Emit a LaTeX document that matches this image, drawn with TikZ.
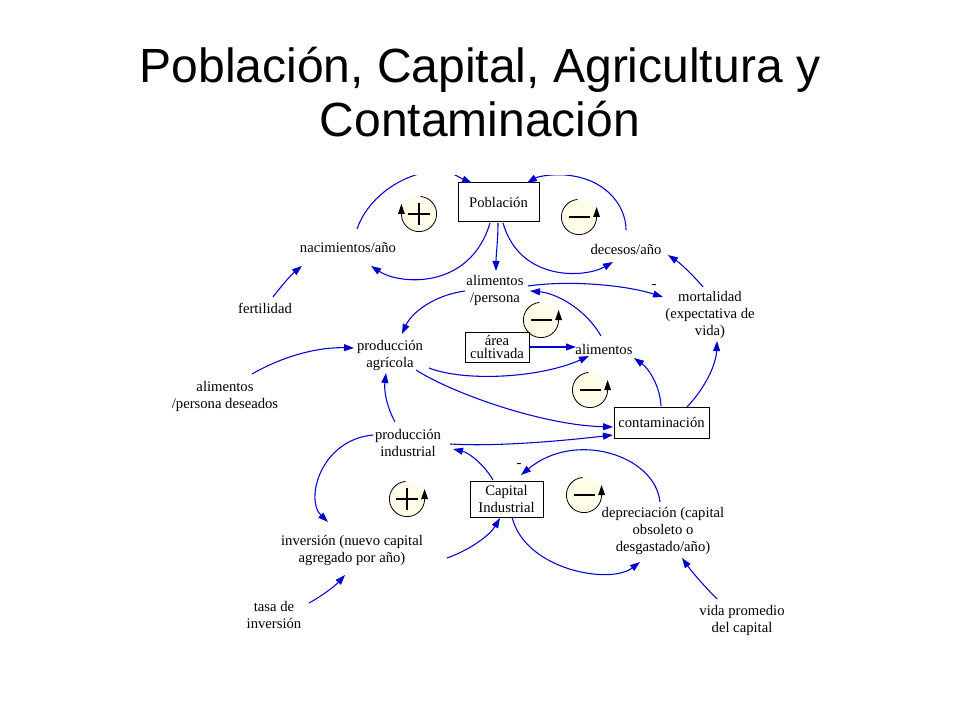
\documentclass[tikz,border=0pt]{standalone}
\usepackage{fontspec}
\setmainfont{Liberation Serif}
\newfontfamily\titlefont{Liberation Sans}
\usetikzlibrary{arrows.meta}
\definecolor{linkblue}{RGB}{0,0,204}
\definecolor{loopfill}{RGB}{255,253,232}
\tikzset{
  lbl/.style={align=center, inner sep=0pt, font=\fontsize{11}{12.75}\selectfont},
  stock/.style={draw=black, line width=0.75pt, inner sep=0pt, align=center, font=\fontsize{11}{12.75}\selectfont},
  link/.style={draw=linkblue, line width=0.8pt, -{Triangle[length=7.5pt,width=5.2pt]}},
  loopline/.style={draw=black, line width=0.6pt},
  signline/.style={draw=black, line width=1.5pt},
  ttl/.style={anchor=base, inner sep=0pt, font=\titlefont\fontsize{36}{40}\selectfont}
}
\newcommand\loopccw[1]{%
  \fill[loopfill] (#1) circle[radius=13.2pt];
  \draw[loopline] (#1) ++(95:13.2pt) arc[start angle=95,end angle=360,radius=13.2pt];
  \fill[black] (#1) ++(10.6pt,0pt) -- ++(5.2pt,0pt) -- ++(-2.6pt,7.5pt) -- cycle;
}
\newcommand\loopcw[1]{%
  \fill[loopfill] (#1) circle[radius=13.2pt];
  \draw[loopline] (#1) ++(85:13.2pt) arc[start angle=85,end angle=-180,radius=13.2pt];
  \fill[black] (#1) ++(-15.8pt,0pt) -- ++(5.2pt,0pt) -- ++(-2.6pt,7.5pt) -- cycle;
}
\newcommand\plussign[1]{%
  \draw[signline] (#1) ++(-8pt,0pt) -- ++(16pt,0pt);
  \draw[signline] (#1) ++(0pt,-8pt) -- ++(0pt,16pt);
}
\newcommand\minussign[1]{%
  \draw[signline] (#1) ++(-7.5pt,0pt) -- ++(16pt,0pt);
}
\begin{document}
\begin{tikzpicture}[x=0.75pt,y=-0.75pt]
\useasboundingbox (0,0) rectangle (960,720);
\fill[white] (0,0) rectangle (960,720);

% title
\node[ttl] (t1) at (480,83) {Población, Capital, Agricultura y};
\node[ttl] (t2) at (480,137) {Contaminación};

% loop symbols
\loopcw{419,214}\plussign{419,214}
\loopccw{579,217}\minussign{579,217}
\loopccw{541,320}\minussign{541,320}
\loopccw{590,390}\minussign{590,390}
\loopccw{407,499}\plussign{407,499}
\loopccw{584,495}\minussign{584,495}

% nodes
\node[stock, minimum width=60.75pt, minimum height=29.25pt] (pob) at (498.5,202.5) {Población};
\node[lbl] (nac) at (348,248) {nacimientos/año};
\node[lbl] (fer) at (265,308) {fertilidad};
\node[lbl] (dec) at (626,249) {decesos/año};
\node[lbl] (alp) at (495,290) {alimentos\\/persona};
\node[lbl] (mor) at (710,315) {mortalidad\\(expectativa de\\vida)};
\node[stock, minimum width=48pt, minimum height=22.5pt, font=\fontsize{11}{9.75}\selectfont] (acu) at (497,347) {área\\cultivada};
\node[lbl] (ali) at (604,349) {alimentos};
\node[stock, minimum width=71.25pt, minimum height=23.25pt] (con) at (661.5,422.5) {contaminación};
\node[lbl] (pag) at (390,355) {producción\\agrícola};
\node[lbl] (apd) at (225,396) {alimentos\\/persona deseados};
\node[lbl] (pin) at (408,443) {producción\\industrial};
\node[stock, minimum width=54.75pt, minimum height=27pt] (cap) at (506.5,499) {Capital\\Industrial};
\node[lbl] (inv) at (352,550) {inversión (nuevo capital\\agregado por año)};
\node[lbl] (tas) at (274,615) {tasa de\\inversión};
\node[lbl] (dep) at (663,531) {depreciación (capital\\obsoleto o\\desgastado/año)};
\node[lbl] (vid) at (742,620) {vida promedio\\del capital};
\node[lbl] (m1) at (654,286) {-};
\node[lbl] (m2) at (519,465) {-};

% connectors
\begin{scope}
\clip (0,176) rectangle (960,720);
\draw[link] ([shift={(9,-19)}]nac.center) .. controls (367,200) and (398,175) .. (434,171)
   .. controls (450,170) and (460,178) .. ([shift={(-26.5,-19.5)}]pob.center);
\draw[link] ([shift={(-8.5,20.5)}]pob.center) .. controls (470,290) and (400,285) .. ([shift={(23,18)}]nac.center);
\draw[link] ([shift={(-0.5,20.5)}]pob.center) .. controls (498,240) and (496,255) .. ([shift={(1,-19)}]alp.center);
\draw[link] ([shift={(4.5,20.5)}]pob.center) .. controls (520,282) and (585,278) .. ([shift={(-13,13)}]dec.center);
\draw[link] ([shift={(0,-19)}]dec.center) .. controls (626,205) and (605,178) .. (565,175)
   .. controls (548,174) and (537,177) .. ([shift={(28.5,-19.5)}]pob.center);
\draw[link] ([shift={(-7,-28)}]mor.center) .. controls (693,275) and (680,263) .. ([shift={(42,6)}]dec.center);
\draw[link] ([shift={(33,-4)}]alp.center) .. controls (570,280) and (625,285) .. ([shift={(-47,-18)}]mor.center);
\draw[link] ([shift={(-3,-13)}]ali.center) .. controls (585,308) and (555,293) .. ([shift={(35,1)}]alp.center);
\draw[link] ([shift={(-30,1)}]alp.center) .. controls (435,295) and (412,312) .. ([shift={(12,-21)}]pag.center);
\draw[link] ([shift={(27,-22)}]apd.center) .. controls (285,355) and (320,347) .. ([shift={(-36,-7)}]pag.center);
\draw[link] (acu.east) -- ([shift={(-28,-2)}]ali.center);
\draw[link] ([shift={(39,13)}]pag.center) .. controls (465,382) and (540,378) .. ([shift={(-15,7)}]ali.center);
\draw[link] ([shift={(26,15)}]pag.center) .. controls (450,392) and (540,425) .. ([shift={(-48.5,4.5)}]con.center);
\draw[link] ([shift={(42,1)}]pin.center) .. controls (500,447) and (570,440) .. ([shift={(-48.5,12.5)}]con.center);
\draw[link] ([shift={(-0.5,-16.5)}]con.center) .. controls (660,385) and (648,368) .. ([shift={(30,9)}]ali.center);
\draw[link] ([shift={(25.5,-15.5)}]con.center) .. controls (705,388) and (716,365) .. ([shift={(7,26)}]mor.center);
\draw[link] ([shift={(-13,-21)}]pin.center) .. controls (386,405) and (384,390) .. ([shift={(-4,18)}]pag.center);
\draw[link] ([shift={(-35,-8)}]pin.center) .. controls (320,440) and (305,500) .. ([shift={(-24,-28)}]inv.center);
\draw[link] ([shift={(95,8)}]inv.center) .. controls (470,550) and (490,535) .. ([shift={(-6.5,19)}]cap.center);
\draw[link] ([shift={(35,-12)}]tas.center) .. controls (322,596) and (335,586) .. ([shift={(-7,25)}]inv.center);
\draw[link] ([shift={(-13.5,-19)}]cap.center) .. controls (485,466) and (470,453) .. ([shift={(45,6)}]pin.center);
\draw[link] ([shift={(5.5,18)}]cap.center) .. controls (525,570) and (610,585) .. ([shift={(-23,31)}]dep.center);
\draw[link] ([shift={(-3,-29)}]dep.center) .. controls (655,455) and (575,430) .. ([shift={(14.5,-24)}]cap.center);
\draw[link] ([shift={(-25,-21)}]vid.center) .. controls (705,587) and (692,572) .. ([shift={(19,27)}]dep.center);
\draw[link] ([shift={(8,-11)}]fer.center) .. controls (282,285) and (292,274) .. ([shift={(-46,18)}]nac.center);
\end{scope}
\end{tikzpicture}
\end{document}
